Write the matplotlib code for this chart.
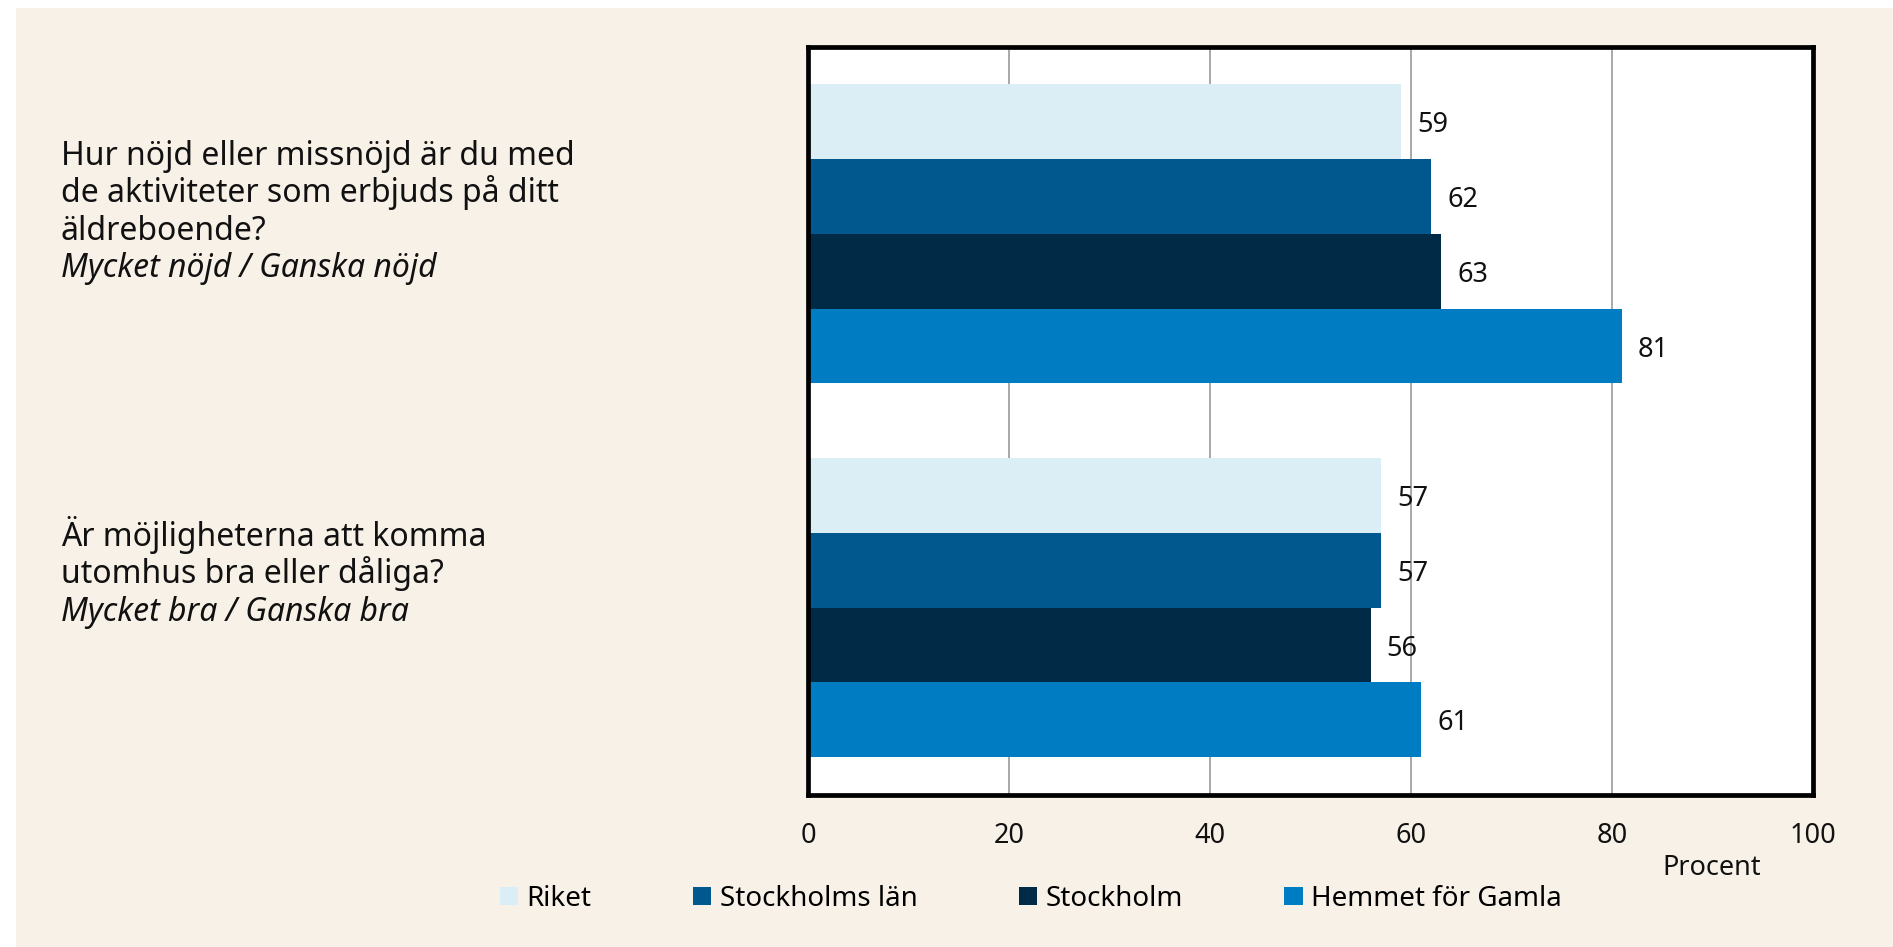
import matplotlib
matplotlib.use('Agg')
import matplotlib.pyplot as plt
import matplotlib.transforms as mtransforms
from matplotlib.patches import Rectangle
import numpy as np

plt.rcParams['font.family'] = ['Noto Sans', 'DejaVu Sans']
plt.rcParams['font.size'] = 19.5

# data
questions = [
    ['Hur nöjd eller missnöjd är du med',
     'de aktiviteter som erbjuds på ditt',
     'äldreboende?'],
    ['Är möjligheterna att komma',
     'utomhus bra eller dåliga?'],
]
answers = ['Mycket nöjd / Ganska nöjd', 'Mycket bra / Ganska bra']
series = ['Riket', 'Stockholms län', 'Stockholm', 'Hemmet för Gamla']
riket = [59, 57]
stockholms_lan = [62, 57]
stockholm = [63, 56]
hemmet = [81, 61]
x_ticks = [0, 20, 40, 60, 80, 100]

COLORS = {
    'bg': '#F8F1E7',
    'bars': ['#DBEEF5', '#00588F', '#002A45', '#007CC2'],
    'grid': '#A8A8A8',
    'text': '#111111',
}

fig = plt.figure(figsize=(18.93, 9.47), dpi=100)
fig.patch.set_facecolor('white')
# beige panel (white strip on top and left like the source crop)
fig.patches.append(Rectangle((16 / 1893, 0), 1, 1 - 8 / 947, transform=fig.transFigure,
                             facecolor=COLORS['bg'], edgecolor='none', zorder=-10))

ax = fig.add_axes([808 / 1893, 1 - 794.5 / 947, (1813 - 808) / 1893, (794.5 - 47) / 947])
ax.set_facecolor('white')

y = np.arange(len(questions))
bar_h = 0.2
values = [riket, stockholms_lan, stockholm, hemmet]
for i, (name, vals) in enumerate(zip(series, values)):
    pos = y + (i - 1.5) * bar_h
    ax.barh(pos, vals, height=bar_h, color=COLORS['bars'][i], label=name, zorder=3)
    # value labels to the right of each bar
    for p, v in zip(pos, vals):
        ax.annotate(str(v), xy=(v, p), xytext=(11.5, 0), textcoords='offset points',
                    ha='left', va='center_baseline', fontsize=19.5,
                    color=COLORS['text'], zorder=5)

ax.set_xlim(0, 100)
ax.set_ylim(1.5, -0.5)
ax.set_xticks(x_ticks)
ax.set_xticklabels([str(t) for t in x_ticks])
ax.set_yticks([])
ax.tick_params(axis='x', length=0, pad=19.5, labelsize=19.5, colors=COLORS['text'])
ax.xaxis.grid(True, color=COLORS['grid'], linewidth=1.4, zorder=0)
ax.set_axisbelow(True)
for spine in ax.spines.values():
    spine.set_linewidth(3.4)
    spine.set_color('black')
    spine.set_zorder(6)

# question texts left of the axes
trans = mtransforms.blended_transform_factory(fig.transFigure, ax.transData)
first_base = [-69, -62]  # px above group centre for the first baseline
pitch = 37.5
for gi, lines in enumerate(questions):
    all_lines = [(l, 'normal') for l in lines] + [(answers[gi], 'italic')]
    for k, (txt, style) in enumerate(all_lines):
        ax.annotate(txt, xy=(61 / 1893, y[gi]), xycoords=trans,
                    xytext=(0, (-first_base[gi] - k * pitch) * 0.72), textcoords='offset points',
                    ha='left', va='baseline', fontsize=23, fontstyle=style,
                    color=COLORS['text'], annotation_clip=False)

fig.text(1712 / 1893, 1 - 868 / 947, 'Procent', ha='center', va='center',
         fontsize=19.5, color=COLORS['text'])

fig.legend(loc='center left', bbox_to_anchor=(500 / 1893, 1 - 899 / 947), ncol=4,
           frameon=False, borderpad=0, borderaxespad=0, handlelength=0.66,
           handleheight=0.64, handletextpad=0.3, columnspacing=3.65, fontsize=20)

fig.savefig('out.png', dpi=100, facecolor=fig.get_facecolor())
